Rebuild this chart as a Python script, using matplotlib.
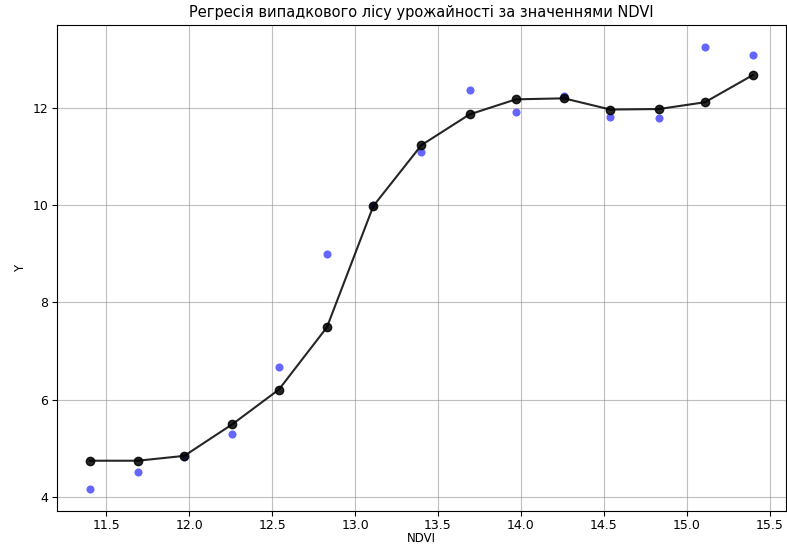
import matplotlib
matplotlib.use('Agg')
import matplotlib.pyplot as plt

# NDVI values and yields
ndvi = [11.40, 11.69, 11.97, 12.26, 12.54, 12.83, 13.11, 13.40,
        13.69, 13.97, 14.26, 14.54, 14.83, 15.11, 15.40]
y_actual = [4.17, 4.52, 4.82, 5.29, 6.68, 8.99, 10.00, 11.08,
            12.36, 11.90, 12.24, 11.80, 11.78, 13.24, 13.09]
y_pred = [4.75, 4.75, 4.85, 5.50, 6.21, 7.49, 9.98, 11.23,
          11.86, 12.17, 12.19, 11.96, 11.97, 12.11, 12.67]

fig = plt.figure(figsize=(7.87, 5.46), dpi=100)
ax = fig.add_axes([0.072, 0.064, 0.927, 0.890])

ax.scatter(ndvi, y_actual, color='blue', alpha=0.6, s=34, linewidths=0)
ax.plot(ndvi, y_pred, color='black', marker='o', markersize=6, alpha=0.85, linewidth=1.5)

ax.set_title('Регресія випадкового лісу урожайності за значеннями NDVI', fontsize=10.5)
ax.set_xlabel('NDVI', fontsize=8.5, labelpad=0)
ax.set_ylabel('Y', fontsize=8.5)
ax.tick_params(labelsize=9, pad=2.5)
ax.grid(True, color='gray', alpha=0.5)

fig.savefig('out.png', dpi=100)
